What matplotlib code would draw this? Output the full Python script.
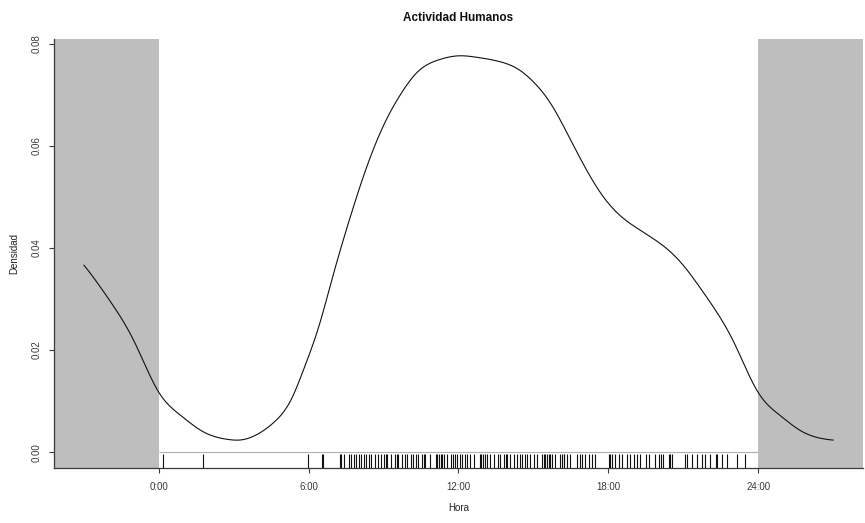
import numpy as np
import matplotlib
matplotlib.use("Agg")
import matplotlib.pyplot as plt

# density curve (one day, wraps at 24h)
curve_hours = [0.0, 0.9, 1.7, 2.75, 3.3, 3.95, 4.6, 5.3, 5.8, 6.4, 7.0, 7.6,
               8.3, 9.1, 9.7, 10.35, 11.2, 12.0, 12.75, 13.7, 14.35, 15.0, 15.7,
               16.4, 17.1, 17.8, 18.5, 19.2, 19.8, 20.4, 21.0, 21.5, 22.1, 23.0]
curve_density = [0.0117, 0.0071, 0.0042, 0.0025, 0.0024, 0.0035, 0.0058, 0.0103,
                 0.0162, 0.0245, 0.0350, 0.0450, 0.0555, 0.0650, 0.0702, 0.0744,
                 0.0768, 0.0776, 0.0773, 0.0764, 0.0751, 0.0725, 0.0682, 0.0620,
                 0.0555, 0.0500, 0.0462, 0.0437, 0.0418, 0.0396, 0.0366, 0.0334,
                 0.0292, 0.0218]

# detection times (rug)
rug_hours = [0.17, 1.76, 5.98, 6.54, 6.58,
             7.25, 7.29, 7.41, 7.63, 7.68, 7.81, 7.89, 8.01, 8.08, 8.21, 8.29, 8.41,
             8.48, 8.64, 8.77, 8.88, 9.01, 9.09, 9.15, 9.31, 9.45, 9.52, 9.57, 9.73,
             9.84, 9.95, 10.08, 10.19, 10.28, 10.37,
             10.55, 10.61, 10.67, 10.85, 11.08, 11.15, 11.21, 11.28, 11.35, 11.41,
             11.55, 11.71, 11.76, 11.88, 11.95, 12.05, 12.15, 12.28, 12.35, 12.45,
             12.61, 12.85, 12.92, 12.99, 13.07, 13.15, 13.28, 13.44, 13.57, 13.68,
             13.84, 13.89, 13.95, 14.08, 14.21, 14.35, 14.48, 14.55, 14.68, 14.75,
             14.88, 15.01, 15.15,
             15.35, 15.41, 15.48, 15.55, 15.61, 15.68, 15.75, 15.88, 16.08, 16.15,
             16.21, 16.24, 16.35, 16.48, 16.75, 16.85, 16.95, 17.08, 17.21, 17.35,
             17.48, 18.01, 18.08, 18.15, 18.28, 18.41, 18.55, 18.75, 18.88, 19.01,
             19.15, 19.28, 19.52, 19.61, 19.88,
             20.01, 20.12, 20.21, 20.44, 20.48, 20.55, 21.08, 21.15, 21.35, 21.55,
             21.75, 21.88, 22.08, 22.32, 22.37, 22.55, 22.75, 23.15, 23.48]

xtick_pos = [0, 6, 12, 18, 24]
xtick_labels = ["0:00", "6:00", "12:00", "18:00", "24:00"]
ytick_pos = [0.0, 0.02, 0.04, 0.06, 0.08]
ytick_labels = ["0.00", "0.02", "0.04", "0.06", "0.08"]


def periodic_spline(xk, yk, period, t):
    # periodic cubic spline through the knots
    xk = np.asarray(xk, float)
    yk = np.asarray(yk, float)
    n = len(xk)
    xe = np.append(xk, xk[0] + period)
    ye = np.append(yk, yk[0])
    h = np.diff(xe)
    A = np.zeros((n, n))
    b = np.zeros(n)
    for i in range(n):
        hp = h[i - 1]
        hi = h[i]
        A[i, (i - 1) % n] += hp
        A[i, i] += 2 * (hp + hi)
        A[i, (i + 1) % n] += hi
        b[i] = 6 * ((ye[i + 1] - ye[i]) / hi - (ye[i] - ye[i - 1 if i > 0 else n - 1]) / hp)
    M = np.linalg.solve(A, b)
    M = np.append(M, M[0])
    tt = np.mod(np.asarray(t, float) - xk[0], period) + xk[0]
    idx = np.clip(np.searchsorted(xe, tt, side="right") - 1, 0, n - 1)
    x0, x1 = xe[idx], xe[idx + 1]
    y0, y1 = ye[idx], ye[idx + 1]
    m0, m1 = M[idx], M[idx + 1]
    hh = x1 - x0
    return (m0 * (x1 - tt) ** 3 / (6 * hh) + m1 * (tt - x0) ** 3 / (6 * hh)
            + (y0 / hh - m0 * hh / 6) * (x1 - tt) + (y1 / hh - m1 * hh / 6) * (tt - x0))


plt.rcParams["font.family"] = ["Liberation Sans", "DejaVu Sans"]
axcol = "#3a3a3a"

fig = plt.figure(figsize=(8.65, 5.23), dpi=100)
ax = fig.add_axes([0.0624, 0.1052, 0.9353, 0.8203])

xlo, xhi = -4.2, 28.2
ylo, yhi = -0.0031, 0.0809
ax.set_xlim(xlo, xhi)
ax.set_ylim(ylo, yhi)

# grey bands outside the 24h day
ax.axvspan(xlo, 0, color="#bebebe", lw=0, zorder=0)
ax.axvspan(24, xhi, color="#bebebe", lw=0, zorder=0)

t = np.linspace(-3, 27, 1200)
ax.plot(t, periodic_spline(curve_hours, curve_density, 24, t), color="#111111", lw=0.8, zorder=3)

# rug
ax.hlines(0, 0, 24, color="#b0b0b0", lw=0.8, zorder=2)
ax.vlines(rug_hours, ylo, -0.0004, color="#111111", lw=0.8, zorder=2)

for s in ["top", "right"]:
    ax.spines[s].set_visible(False)
for s in ["left", "bottom"]:
    ax.spines[s].set_color(axcol)
    ax.spines[s].set_linewidth(0.9)

ax.set_xticks(xtick_pos)
ax.set_xticklabels(xtick_labels)
ax.set_yticks(ytick_pos)
ax.set_yticklabels(ytick_labels, rotation=90, va="center")
ax.tick_params(axis="both", colors=axcol, labelsize=7, length=3.6, width=0.8)
ax.tick_params(axis="x", pad=6.5)
ax.tick_params(axis="y", pad=5)

ax.set_xlabel("Hora", fontsize=7, color="#222222", labelpad=8)
ax.set_ylabel("Densidad", fontsize=7, color="#222222", labelpad=9.5)
ax.set_title("Actividad Humanos", fontsize=8.5, fontweight="bold", color="#111111", pad=13)

fig.savefig("out.png", dpi=100)
